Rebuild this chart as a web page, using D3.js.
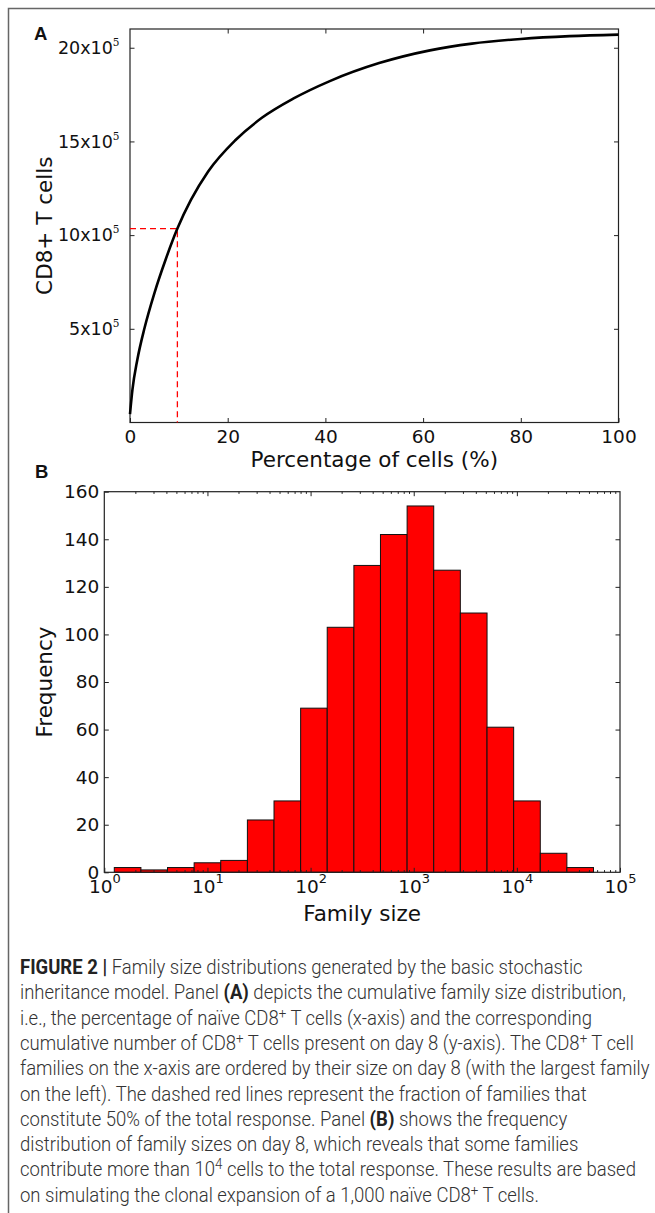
<!DOCTYPE html>
<html>
<head>
<meta charset="utf-8">
<script src="https://cdn.jsdelivr.net/npm/d3@7"></script>
<style>
  body { margin: 0; background: #fff; }
  svg { display: block; }
  text { white-space: pre; }
</style>
</head>
<body>
<svg id="fig" width="655" height="1213"></svg>
<script>
// ---- panel A: cumulative response (x = % of naive cells, y = cells in units of 10^5)
const pctCells = [0, 0.5, 1.5, 3, 5, 7.3, 9.7, 12.5, 16, 21.5, 27, 33.4, 40.9, 51, 61.4, 70, 80, 90, 100];
const cumCells = [0.45, 1.75, 3.35, 5.07, 6.91, 8.70, 10.35, 11.89, 13.40, 15.05, 16.26, 17.28, 18.22, 19.18, 19.86, 20.22, 20.47, 20.62, 20.70];
const halfPct = 9.7;
const halfCells = 10.35;
const aXTicks = [0, 20, 40, 60, 80, 100];
const aYTicks = [5, 10, 15, 20];

// ---- panel B: histogram of family sizes (log bins)
const binEdges = [1.25, 2.265, 4.10, 7.43, 13.46, 24.4, 44.2, 80.1, 145, 263, 476, 863, 1563, 2831, 5140, 9310, 16870, 30550, 55340];
const binCounts = [2, 1, 2, 4, 5, 22, 30, 69, 103, 129, 142, 154, 127, 109, 61, 30, 8, 2];
const bYTicks = [0, 20, 40, 60, 80, 100, 120, 140, 160];
const bXExponents = [0, 1, 2, 3, 4, 5];

// ---- caption, one entry per printed line: [text, style] with b = bold, n = normal, s = superscript
const captionLines = [
  [["FIGURE 2 | ", "b"], ["Family size distributions generated by the basic stochastic", "n"]],
  [["inheritance model. Panel ", "n"], ["(A)", "b"], [" depicts the cumulative family size distribution,", "n"]],
  [["i.e., the percentage of naïve CD8", "n"], ["+", "s"], [" T cells (x-axis) and the corresponding", "n"]],
  [["cumulative number of CD8", "n"], ["+", "s"], [" T cells present on day 8 (y-axis). The CD8", "n"], ["+", "s"], [" T cell", "n"]],
  [["families on the x-axis are ordered by their size on day 8 (with the largest family", "n"]],
  [["on the left). The dashed red lines represent the fraction of families that", "n"]],
  [["constitute 50% of the total response. Panel ", "n"], ["(B)", "b"], [" shows the frequency", "n"]],
  [["distribution of family sizes on day 8, which reveals that some families", "n"]],
  [["contribute more than 10", "n"], ["4", "s"], [" cells to the total response. These results are based", "n"]],
  [["on simulating the clonal expansion of a 1,000 naïve CD8", "n"], ["+", "s"], [" T cells.", "n"]]
];

const tickFont = "DejaVu Sans, sans-serif";
const svg = d3.select("#fig");

// figure frame (top and left edges)
svg.append("path")
  .attr("d", "M8.5,1213V8.5H655")
  .attr("fill", "none")
  .attr("stroke", "#666")
  .attr("stroke-width", 1.5);

function styleAxis(g, size) {
  g.select(".domain").remove();
  g.selectAll(".tick line").attr("stroke", "#222").attr("stroke-width", 1);
  g.selectAll(".tick text")
    .attr("fill", "#111")
    .style("font-family", tickFont)
    .style("font-size", size + "px");
}

// =============== panel A ===============
const A = {l: 130, r: 618.5, t: 29, b: 422.5};
const xA = d3.scaleLinear().domain([0, 100]).range([A.l, A.r]);
const yA = d3.scaleLinear().domain([0, 21]).range([A.b, A.t]);
const gA = svg.append("g");

gA.append("g").attr("transform", `translate(0,${A.b})`)
  .call(d3.axisBottom(xA).tickValues(aXTicks).tickSizeInner(-4.5).tickSizeOuter(0).tickPadding(7))
  .call(g => styleAxis(g, 18.5));
gA.append("g").attr("transform", `translate(0,${A.t})`)
  .call(d3.axisTop(xA).tickValues(aXTicks.slice(1, -1)).tickSizeInner(-4.5).tickSizeOuter(0).tickFormat(""))
  .call(g => styleAxis(g, 18.5));
gA.append("g").attr("transform", `translate(${A.r},0)`)
  .call(d3.axisRight(yA).tickValues(aYTicks).tickSizeInner(-4.5).tickSizeOuter(0).tickFormat(""))
  .call(g => styleAxis(g, 18.5));
const yAxisA = gA.append("g").attr("transform", `translate(${A.l},0)`)
  .call(d3.axisLeft(yA).tickValues(aYTicks).tickSizeInner(-4.5).tickSizeOuter(0).tickPadding(10.5))
  .call(g => styleAxis(g, 17.5));
yAxisA.selectAll(".tick text").each(function(d) {
  const t = d3.select(this).text("");
  t.append("tspan").text(d + "x10");
  t.append("tspan").attr("dy", -8).style("font-size", "10.5px")
    .style("font-family", "DejaVu Serif, serif").text("5");
});

gA.append("rect")
  .attr("x", A.l).attr("y", A.t)
  .attr("width", A.r - A.l).attr("height", A.b - A.t)
  .attr("fill", "none").attr("stroke", "#222").attr("stroke-width", 1.2);

// dashed 50% marker
gA.append("path")
  .attr("d", d3.line()([[xA(0), yA(halfCells)], [xA(halfPct), yA(halfCells)], [xA(halfPct), yA(0)]]))
  .attr("fill", "none").attr("stroke", "#f00").attr("stroke-width", 1.3)
  .attr("stroke-dasharray", "6,4");

gA.append("path")
  .datum(d3.zip(pctCells, cumCells))
  .attr("d", d3.line().x(d => xA(d[0])).y(d => yA(d[1])).curve(d3.curveMonotoneX))
  .attr("fill", "none").attr("stroke", "#000").attr("stroke-width", 2.6);

gA.append("text").attr("x", (A.l + A.r) / 2).attr("y", 467)
  .attr("text-anchor", "middle").attr("fill", "#111")
  .style("font-family", tickFont).style("font-size", "21.5px")
  .text("Percentage of cells (%)");
gA.append("text").attr("transform", `translate(51.5,${(A.t + A.b) / 2}) rotate(-90)`)
  .attr("text-anchor", "middle").attr("fill", "#111")
  .style("font-family", tickFont).style("font-size", "21.5px")
  .text("CD8+ T cells");
svg.append("text").attr("x", 34).attr("y", 39.5)
  .style("font-family", "Liberation Sans, Arial, sans-serif").style("font-weight", "bold")
  .style("font-size", "18.5px").attr("fill", "#111").text("A");

// =============== panel B ===============
const B = {l: 104.3, r: 620, t: 491.7, b: 872.3};
const xB = d3.scaleLog().domain([1, 1e5]).range([B.l, B.r]);
const yB = d3.scaleLinear().domain([0, 160]).range([B.b, B.t]);
const gB = svg.append("g");

gB.selectAll("rect.bar")
  .data(binCounts)
  .join("rect")
  .attr("class", "bar")
  .attr("x", (d, i) => xB(binEdges[i]))
  .attr("width", (d, i) => xB(binEdges[i + 1]) - xB(binEdges[i]))
  .attr("y", d => yB(d))
  .attr("height", d => yB(0) - yB(d))
  .attr("fill", "#ff0000")
  .attr("stroke", "#111")
  .attr("stroke-width", 1);

const majorB = bXExponents.map(e => Math.pow(10, e));
const minorB = xB.ticks().filter(v => !majorB.some(m => Math.abs(m - v) < 1e-9));

[[B.b, d3.axisBottom], [B.t, d3.axisTop]].forEach(([y, ax]) => {
  gB.append("g").attr("transform", `translate(0,${y})`)
    .call(ax(xB).tickValues(minorB).tickSizeInner(-2.2).tickSizeOuter(0).tickFormat(""))
    .call(g => styleAxis(g, 18.5));
});
gB.append("g").attr("transform", `translate(0,${B.t})`)
  .call(d3.axisTop(xB).tickValues(majorB.slice(1, -1)).tickSizeInner(-4.5).tickSizeOuter(0).tickFormat(""))
  .call(g => styleAxis(g, 18.5));
const xAxisB = gB.append("g").attr("transform", `translate(0,${B.b})`)
  .call(d3.axisBottom(xB).tickValues(majorB).tickSizeInner(-4.5).tickSizeOuter(0).tickPadding(8))
  .call(g => styleAxis(g, 18.5));
xAxisB.selectAll(".tick text").each(function(d, i) {
  const t = d3.select(this).text("");
  t.append("tspan").text("10");
  t.append("tspan").attr("dy", -10).style("font-size", "13px").text(bXExponents[i]);
});
gB.append("g").attr("transform", `translate(${B.l},0)`)
  .call(d3.axisLeft(yB).tickValues(bYTicks).tickSizeInner(-4.5).tickSizeOuter(0).tickPadding(5))
  .call(g => styleAxis(g, 18.5));
gB.append("g").attr("transform", `translate(${B.r},0)`)
  .call(d3.axisRight(yB).tickValues(bYTicks.slice(1, -1)).tickSizeInner(-4.5).tickSizeOuter(0).tickFormat(""))
  .call(g => styleAxis(g, 18.5));

gB.append("rect")
  .attr("x", B.l).attr("y", B.t)
  .attr("width", B.r - B.l).attr("height", B.b - B.t)
  .attr("fill", "none").attr("stroke", "#222").attr("stroke-width", 1.2);

gB.append("text").attr("x", (B.l + B.r) / 2).attr("y", 921)
  .attr("text-anchor", "middle").attr("fill", "#111")
  .style("font-family", tickFont).style("font-size", "21.5px")
  .text("Family size");
gB.append("text").attr("transform", `translate(51.5,${(B.t + B.b) / 2}) rotate(-90)`)
  .attr("text-anchor", "middle").attr("fill", "#111")
  .style("font-family", tickFont).style("font-size", "21.5px")
  .text("Frequency");
svg.append("text").attr("x", 35).attr("y", 477.5)
  .style("font-family", "Liberation Sans, Arial, sans-serif").style("font-weight", "bold")
  .style("font-size", "18.5px").attr("fill", "#111").text("B");

// =============== caption ===============
// printed in a condensed face: draw Roboto and squeeze it horizontally to the measure
const capX = 20, capY0 = 974, capStep = 25.3, capSize = 19.5;
const cap = svg.append("g").style("font-family", "Roboto, 'Liberation Sans', sans-serif")
  .style("font-weight", 300).attr("fill", "#333");

function drawCaption(sx) {
  cap.selectAll("*").remove();
  captionLines.forEach((segs, li) => {
    const t = cap.append("text")
      .attr("transform", `translate(${capX},${capY0 + li * capStep}) scale(${sx},1)`)
      .style("font-size", capSize + "px");
    let shift = 0;
    segs.forEach(([txt, kind]) => {
      const sp = t.append("tspan").text(txt);
      if (kind === "s") {
        sp.attr("dy", -7 - shift).style("font-size", (capSize * 0.72) + "px");
        shift = -7;
      } else {
        if (shift !== 0) { sp.attr("dy", -shift); shift = 0; }
        if (kind === "b") sp.style("font-weight", "bold").attr("fill", "#222");
      }
    });
  });
}
drawCaption(1);
// fit the widest line (line 5) to the printed measure
const w5 = cap.selectAll("text").nodes()[4].getComputedTextLength();
drawCaption((650 - capX) / w5);
</script>
</body>
</html>
